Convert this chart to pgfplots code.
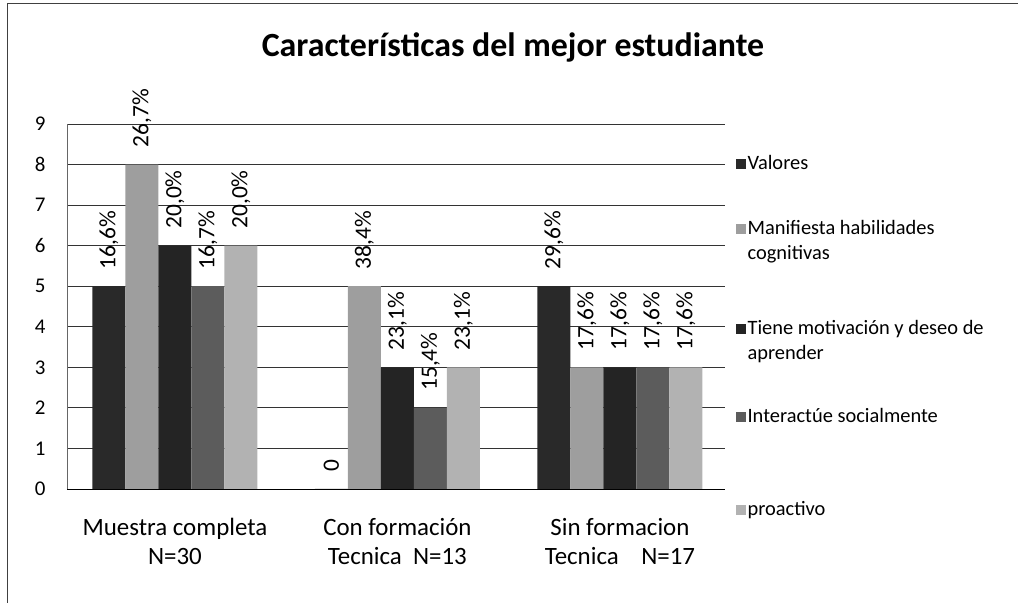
\documentclass[border=0pt]{standalone}
\usepackage{pgfplots}
\pgfplotsset{compat=1.18}
\usepackage{fontspec}
\setmainfont{Carlito}
\newcommand{\twolines}[2]{\vtop{\hbox{#1}\hbox{#2}}}
\begin{document}
\begin{tikzpicture}
\path[use as bounding box] (0,0) rectangle (1018bp,603bp);
\draw[black!75, line width=1bp] (7bp,0) -- (7bp,599bp) -- (1018bp,599bp);
\node[font=\bfseries\fontsize{34}{38}\selectfont] at (513bp,556bp) {Características del mejor estudiante};
\begin{axis}[
  at={(67bp,114bp)}, anchor=south west,
  scale only axis, width=657.5bp, height=365bp,
  ymin=0, ymax=9, ytick={0,...,9},
  xmin=-0.485, xmax=2.47, xtick={0,1,2},
  xticklabels={Muestra completa\\N=30, Con formación\\Tecnica\ \ N=13, Sin formacion\\Tecnica\ \ \ \ N=17},
  xticklabel style={align=center, font=\fontsize{25}{29}\selectfont, yshift=-26bp},
  yticklabel style={font=\fontsize{21}{24}\selectfont, xshift=-18bp},
  /pgf/number format/assume math mode=true,
  ymajorgrids, grid style={black!80, line width=0.8bp},
  axis y line*=left, axis x line*=bottom,
  y axis line style={draw=black!60, line width=0.6bp, -},
  x axis line style={draw=black, line width=0.8bp, -},
  major tick length=0pt,
  ybar=0pt, bar width=33bp,
  nodes near coords, point meta=explicit symbolic,
  every node near coord/.append style={rotate=90, anchor=west, font=\fontsize{23.5}{24}\selectfont, inner xsep=17bp, black},
  legend style={at={(1.012,0.925)}, anchor=north west, draw=none, fill=none, font=\fontsize{20.5}{25}\selectfont, row sep=45bp, cells={anchor=base west}},
  legend image code/.code={\fill[#1] (0bp,0.5bp) rectangle (10bp,10.5bp);},
]
\addplot[fill=black!84, draw=none] coordinates {(0,5)[16,6\%] (1,0)[0] (2,5)[29,6\%]};
\addplot[fill=black!38, draw=none] coordinates {(0,8)[26,7\%] (1,5)[38,4\%] (2,3)[17,6\%]};
\addplot[fill=black!86, draw=none] coordinates {(0,6)[20,0\%] (1,3)[23,1\%] (2,3)[17,6\%]};
\addplot[fill=black!64, draw=none] coordinates {(0,5)[16,7\%] (1,2)[15,4\%] (2,3)[17,6\%]};
\addplot[fill=black!30, draw=none] coordinates {(0,6)[20,0\%] (1,3)[23,1\%] (2,3)[17,6\%]};
\legend{Valores, \twolines{Manifiesta habilidades}{cognitivas}, \twolines{\rule{0pt}{50bp}Tiene motivación y deseo de}{aprender}, \rule{0pt}{37bp}Interactúe socialmente, \rule{0pt}{43bp}proactivo}
\end{axis}
\end{tikzpicture}
\end{document}
